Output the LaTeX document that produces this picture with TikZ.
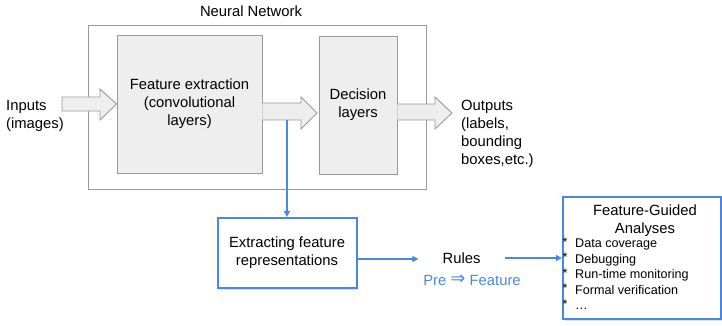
\documentclass[tikz,border=0pt]{standalone}
\usepackage{fontspec}
\setmainfont{Liberation Sans}
\newfontfamily\djv{DejaVu Sans}
\usetikzlibrary{arrows.meta,shadows}
\definecolor{boxgray}{HTML}{9A9A9A}
\definecolor{boxfill}{HTML}{EEEEEE}
\definecolor{gblue}{HTML}{4A86E8}
\tikzset{
  big/.style={font=\fontsize{14.8}{18}\selectfont},
  small/.style={font=\fontsize{12.6}{15.5}\selectfont},
  graybox/.style={draw=boxgray, fill=boxfill, line width=0.9pt, inner sep=0pt, big, align=center},
  outerbox/.style={draw=boxgray, line width=0.9pt, inner sep=0pt},
  bluebox/.style={draw=gblue, fill=white, line width=2pt, inner sep=0pt, big, align=center,
     drop shadow={opacity=0.25, shadow xshift=1.5pt, shadow yshift=-1.5pt}},
  blockarrow/.style={draw=boxgray, fill=boxfill, line width=0.9pt, line join=miter},
  bluearrow/.style={draw=gblue, line width=1.6pt, -{Triangle[length=6pt,width=6pt]}},
  plain/.style={inner sep=0pt, big, align=left},
}
\begin{document}
\begin{tikzpicture}[x=1pt,y=-1pt]
\useasboundingbox (0,0) rectangle (722,325);
% Neural network container
\node[outerbox, minimum width=338pt, minimum height=164pt] (nn) at (257,107) {};
\node[plain, align=center] (nnlabel) at (251,11) {Neural Network};
% inner boxes
\node[graybox, minimum width=145pt, minimum height=138pt] (fe) at (189.5,104) {Feature extraction\\(convolutional\\layers)};
\node[graybox, minimum width=78pt, minimum height=138pt] (dl) at (358,105) {Decision\\layers};
% texts
\node[plain, anchor=west] (inp) at (6,116) {Inputs\\(images)};
\node[plain, anchor=west] (outp) at (461,134) {Outputs\\(labels,\\bounding\\boxes,etc.)};
% block arrows
\draw[blockarrow] (62,97) -- (100,97) -- (100,89) -- (fe.west) -- (100,120) -- (100,111) -- (62,111) -- cycle;
\draw[blockarrow] (fe.east |- 0,103) -- (301,103) -- (301,97) -- (317,113) -- (301,129) -- (301,120) -- (fe.east |- 0,120) ;
\draw[blockarrow] (dl.east |- 0,104) -- (435,104) -- (435,97) -- (452,113) -- (435,129) -- (435,120) -- (dl.east |- 0,120);
\coordinate (tap) at (287,120);
% lower part
\node[bluebox, minimum width=139pt, minimum height=70pt] (ext) at (287,253) {Extracting feature\\representations};
\node[inner sep=0pt, inner xsep=24pt, big] (rules) at (461.5,258) {Rules};
\node[inner sep=0pt, big, text=gblue] (pre) at (472,280) {Pre {\djv\fontsize{18}{18}\selectfont\raisebox{0.3pt}{⇒}} Feature};
\node[bluebox, minimum width=158pt, minimum height=122pt] (fga) at (642,258) {};
\node[plain, align=center] (fgatitle) at (645,221) {Feature-Guided\\Analyses};
\node[inner sep=0pt, small, align=left, anchor=north west] (fgalist) at (575,239)
  {Data coverage\\Debugging\\Run-time monitoring\\Formal verification\\\dots};
\node[inner sep=0pt, small, align=left, anchor=north west] (fgastars) at (562.5,237.5)
  {*\\*\\*\\*\\*};
% connectors
\draw[bluearrow] (tap) -- (ext.north);
\draw[bluearrow] (ext.east |- 0,259) -- (rules.west |- 0,259);
\draw[bluearrow] (rules.east) -- (rules.east -| fga.west);
\end{tikzpicture}
\end{document}
